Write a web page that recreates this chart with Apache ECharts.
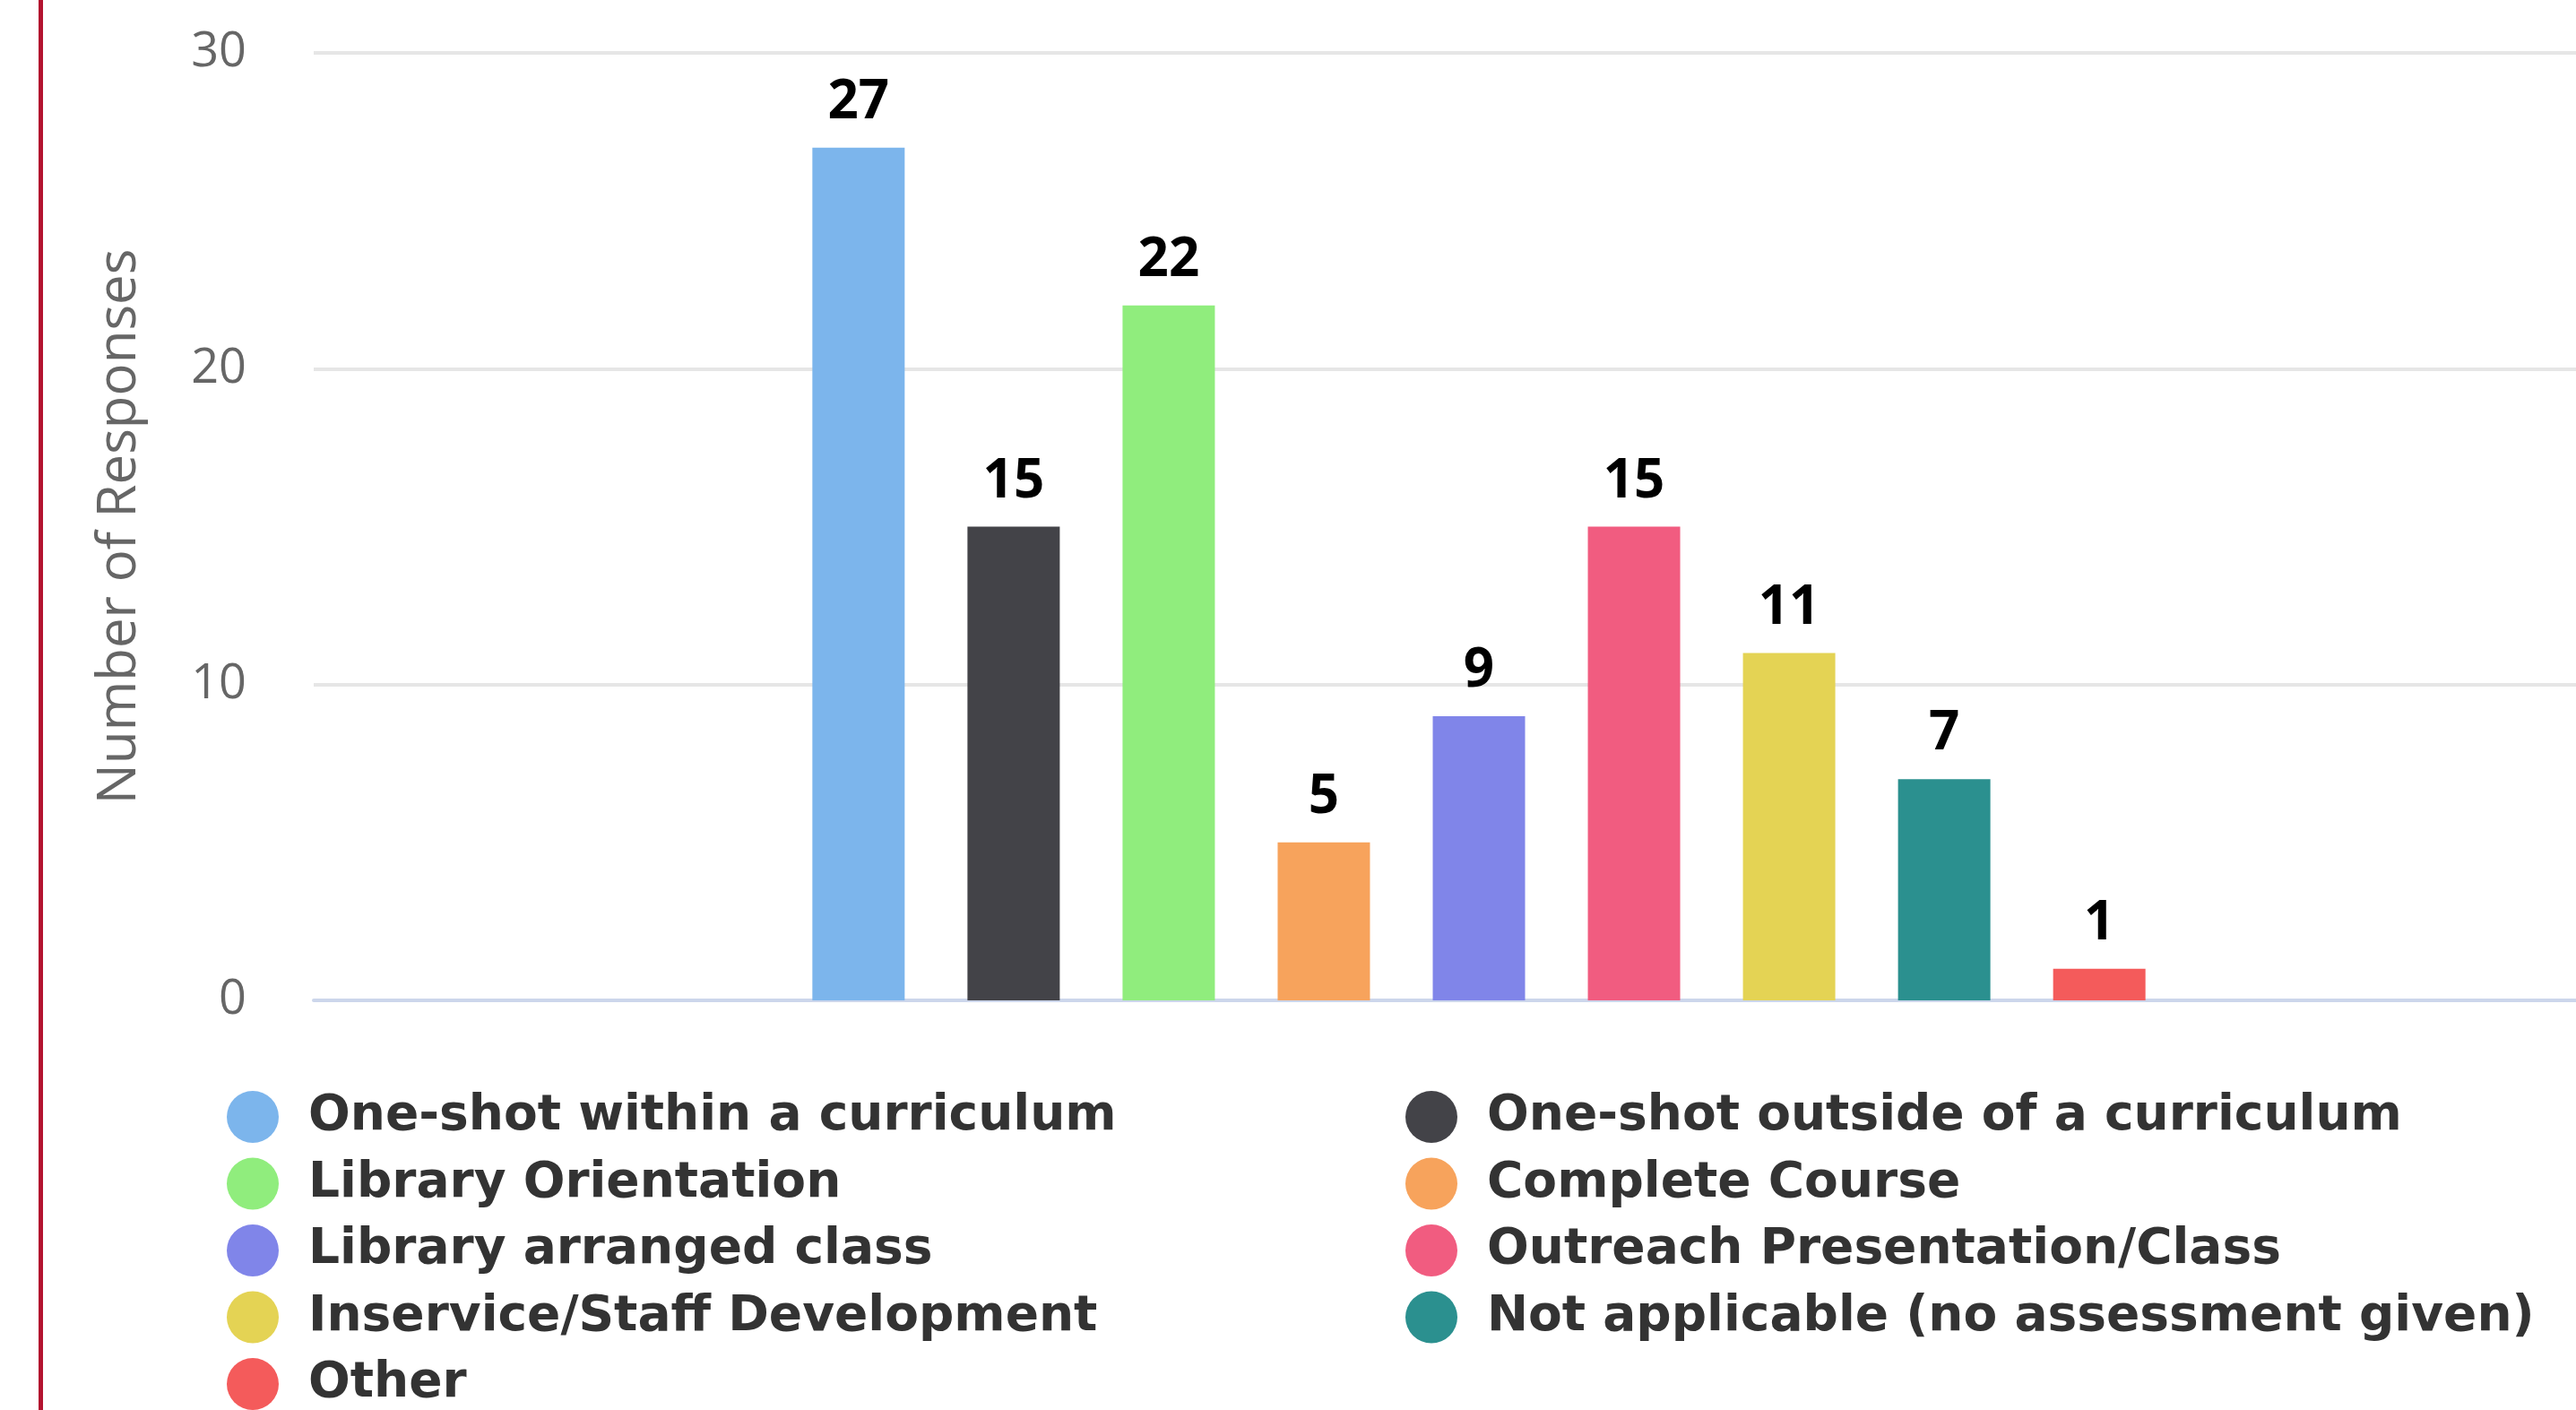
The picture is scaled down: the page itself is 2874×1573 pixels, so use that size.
<!DOCTYPE html>
<html>
<head>
<meta charset="utf-8">
<style>
  html, body { margin: 0; padding: 0; background: #ffffff; }
  #chart { width: 2874px; height: 1573px; }
</style>
<script src="https://cdn.jsdelivr.net/npm/echarts@6/dist/echarts.min.js"></script>
</head>
<body>
<div id="chart"></div>
<script>
// ---- data ----
const categories = ['Type of instruction'];
const seriesNames = [
  'One-shot within a curriculum',
  'One-shot outside of a curriculum',
  'Library Orientation',
  'Complete Course',
  'Library arranged class',
  'Outreach Presentation/Class',
  'Inservice/Staff Development',
  'Not applicable (no assessment given)',
  'Other'
];
const seriesValues = [27, 15, 22, 5, 9, 15, 11, 7, 1];
const yAxisTitle = 'Number of Responses';
const yMin = 0, yMax = 30, yInterval = 10;

// ---- style ----
const palette = ['#7cb5ec', '#434348', '#90ed7d', '#f7a35c', '#8085e9',
                 '#f15c80', '#e4d354', '#2b908f', '#f45b5b'];
const FONT = '"Open Sans", "Noto Sans", sans-serif';
const LEGEND_FONT = '"DejaVu Sans", "Open Sans", sans-serif';

const chart = echarts.init(document.getElementById('chart'), null, { renderer: 'canvas' });

const series = seriesNames.map((name, i) => ({
  name: name,
  type: 'bar',
  data: [seriesValues[i]],
  barWidth: 103,
  barGap: '68%',
  itemStyle: { color: palette[i] },
  label: {
    show: true,
    position: 'top',
    distance: 20,
    color: '#000000',
    fontFamily: FONT,
    fontWeight: 'bold',
    fontSize: 60
  }
}));

const legendCommon = {
  orient: 'vertical',
  icon: 'circle',
  itemWidth: 58,
  itemHeight: 58,
  itemGap: 16.5,
  padding: 0,
  selectedMode: false,
  textStyle: {
    color: '#333333',
    fontFamily: LEGEND_FONT,
    fontWeight: 'bold',
    fontSize: 55,
    padding: [0, 0, 0, 28]
  }
};

const option = {
  animation: false,
  backgroundColor: '#ffffff',
  color: palette,
  grid: {
    left: 350, width: 2600, top: 59, height: 1057,
    containLabel: false,
    outerBoundsMode: 'none'
  },
  xAxis: {
    type: 'category',
    data: categories,
    axisLine: { show: true, lineStyle: { color: '#ccd6eb', width: 4 } },
    axisTick: { show: false },
    axisLabel: { show: false },
    splitLine: { show: false }
  },
  yAxis: {
    type: 'value',
    min: yMin, max: yMax, interval: yInterval,
    name: yAxisTitle,
    nameLocation: 'middle',
    nameGap: 186,
    nameRotate: 90,
    nameTextStyle: { color: '#666666', fontFamily: FONT, fontSize: 60 },
    axisLine: { show: false },
    axisTick: { show: false },
    axisLabel: { color: '#666666', fontFamily: FONT, fontSize: 54, margin: 75 },
    splitLine: { lineStyle: { color: '#e6e6e6', width: 4 } }
  },
  legend: [
    Object.assign({}, legendCommon, {
      left: 253, top: 1217,
      data: [seriesNames[0], seriesNames[2], seriesNames[4], seriesNames[6], seriesNames[8]]
    }),
    Object.assign({}, legendCommon, {
      left: 1568, top: 1217,
      data: [seriesNames[1], seriesNames[3], seriesNames[5], seriesNames[7]]
    })
  ],
  graphic: [{
    type: 'rect',
    shape: { x: 43, y: 0, width: 5, height: 1573 },
    style: { fill: '#b3122f' },
    silent: true
  }],
  series: series
};

chart.setOption(option);
</script>
</body>
</html>
